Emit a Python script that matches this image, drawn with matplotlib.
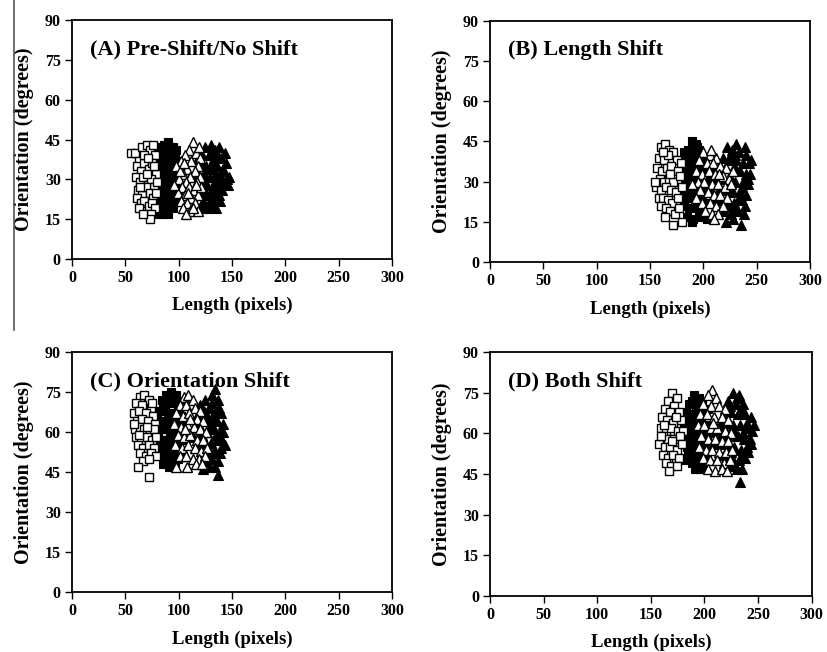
import matplotlib
matplotlib.use("Agg")
from matplotlib import pyplot as plt
from matplotlib.lines import Line2D

matplotlib.rcParams['font.family'] = ['Liberation Serif', 'DejaVu Serif']
matplotlib.rcParams['font.weight'] = 'bold'

# ---- panel A : pre-shift / no shift ----
a_osq_x = [55,59,63,66,70,73,76,78,61,65,68,72,75,79,60,64,67,71,74,77,80,62,66,69,73,76,79,61,65,68,72,75,78,64,70,74,73,77,68,71,63,67]
a_osq_y = [40,40,37,42,43,41,43,39,35,33,36,34,36,32,31,29,31,28,30,27,29,26,24,27,25,23,25,23,21,22,20,21,19,27,32,17,15,35,39,38,19,17]
a_fsq_x = [82,86,90,94,98,81,85,89,93,97,100,83,87,91,95,99,82,86,90,94,98,84,88,92,96,100,81,85,89,93,97,83,87,91,95,86,80,90,84,92,96,88,
           84,88,92,96,80,85,89,93,97,99,87,91,82,95,100,86]
a_fsq_y = [42,43,44,42,41,38,39,40,38,39,37,35,34,36,35,33,31,30,32,31,30,27,28,27,26,28,24,23,24,23,22,20,19,20,19,17,17,17,33,40,33,22,
           41,36,33,29,30,26,31,29,36,25,25,23,22,42,34,38]
a_otr_x = [113,110,116,106,120,102,112,118,98,108,115,104,111,120,100,107,117,103,110,114,99,106,118,112,102,108,115,104,111,118,107,121,96,101,109,113,105,116,119]
a_otr_y = [44,41,40,39,38,37,37,35,35,34,33,32,31,31,30,29,29,27,27,26,25,24,24,23,22,21,21,19,18,18,17,27,28,33,25,19,36,28,42]
a_ftr_x = [125,130,134,138,122,128,133,140,120,126,131,136,142,118,124,129,135,140,145,121,127,132,138,143,119,125,130,136,141,123,128,133,139,126,131,135,116,147,144,137,
           123,129,135,141,146,120,132,138,127,143,124,131,118,136,122]
a_ftr_y = [42,43,41,42,39,39,38,38,36,35,36,35,34,32,32,31,32,31,30,29,28,28,28,29,25,25,24,25,26,22,21,22,22,19,20,19,27,31,36,30,
           35,34,27,33,28,26,41,24,24,40,29,26,38,39,19]

# ---- panel B : length shift ----
b_osq_x = [160,164,168,172,158,163,167,175,179,157,161,166,170,176,159,163,168,172,178,156,160,165,170,174,180,158,162,167,171,176,160,165,169,173,164,172,177,155,169,162,180]
b_osq_y = [43,44,42,41,39,38,40,38,37,35,34,35,36,34,31,30,31,30,32,28,27,28,27,26,28,24,24,23,22,24,21,20,19,18,17,14,20,30,33,41,15]
b_fsq_x = [189,193,186,191,196,183,188,194,199,181,186,191,197,202,183,188,193,199,204,181,186,191,196,201,184,189,194,199,182,187,192,197,185,190,196,189,204,206,183,195,180,203,
           185,190,195,200,205,187,192,198,184,202,194,189,182,199,206]
b_fsq_y = [45,44,42,41,42,39,38,39,38,35,35,34,35,34,31,31,30,31,30,28,27,27,28,27,24,24,23,24,21,20,21,20,17,16,17,15,22,31,34,33,25,16,
           38,35,29,33,26,29,25,22,27,39,43,20,41,18,35]
b_otr_x = [200,206,212,196,203,209,216,221,193,199,205,211,218,224,195,201,208,214,220,197,204,210,216,222,193,199,206,212,218,202,208,214,210,226,189,215,207,228]
b_otr_y = [41,40,39,38,37,37,36,35,34,33,34,33,32,31,30,30,29,29,28,27,26,25,25,24,24,22,22,21,21,19,18,18,16,29,29,33,42,34]
b_ftr_x = [222,227,233,240,218,225,231,237,243,214,220,227,234,240,212,218,224,230,237,242,215,221,228,234,240,217,223,229,236,219,226,232,238,228,235,221,244,213,230,
           224,230,236,242,217,223,233,239,220,226,245,231,214,228,239]
b_ftr_y = [43,42,41,40,39,38,38,37,37,35,35,34,34,33,31,31,30,30,30,29,27,27,26,26,25,23,22,22,23,19,18,19,18,16,14,15,33,24,40,
           39,35,28,31,33,27,24,21,21,31,38,44,29,20,43]

# ---- panel C : orientation shift ----
c_osq_x = [64,68,72,60,66,74,58,63,69,76,61,66,71,78,59,64,68,73,77,60,65,70,75,79,62,67,72,77,64,69,74,79,67,72,62,72,58,75,70,63]
c_osq_y = [73,74,72,71,70,69,67,68,67,66,64,65,64,63,61,62,61,60,61,58,57,58,57,58,55,54,55,54,52,51,52,51,49,50,47,43,63,71,62,59]
c_fsq_x = [88,93,98,84,90,96,101,82,87,93,99,80,85,91,97,102,83,88,94,100,81,86,92,98,103,84,89,95,100,82,87,93,99,85,91,97,102,90,96,88,
           85,90,95,100,83,88,93,97,102,86,92,81,98,90,96]
c_fsq_y = [74,75,73,72,71,71,70,68,68,67,68,65,64,65,64,63,61,61,60,61,58,57,58,57,57,54,54,53,54,51,50,51,50,48,47,48,52,63,62,57,
           70,67,62,59,57,53,55,51,66,61,73,62,74,50,66]
c_otr_x = [105,109,113,101,107,115,120,98,104,110,117,123,96,102,108,114,120,126,99,105,111,117,123,97,103,109,115,121,127,101,107,113,119,125,98,108,116,122,111,106]
c_otr_y = [73,74,72,70,70,69,68,67,66,67,65,64,63,62,63,62,61,60,59,58,59,57,57,55,54,55,54,53,54,51,51,50,50,51,47,47,48,48,65,61]
c_ftr_x = [134,131,125,137,120,128,134,140,117,123,130,136,142,115,121,127,133,139,118,124,130,136,141,116,122,128,134,140,119,125,131,137,123,129,134,137,143,113,127,
           124,131,138,122,129,135,142,119,126,132,139,121,128,133,117]
c_ftr_y = [76,74,72,72,70,69,68,67,66,65,64,64,63,62,61,60,61,60,58,57,56,57,57,54,53,53,53,54,50,49,50,49,46,47,47,44,55,58,66,
           68,71,69,59,62,59,60,55,55,52,52,48,51,65,63]

# ---- panel D : both shift ----
d_osq_x = [170,174,166,172,163,168,176,160,165,171,178,159,164,169,175,180,161,166,172,177,158,163,168,174,179,161,166,171,176,164,169,174,167,162,170,173,159]
d_osq_y = [75,73,72,70,69,68,68,66,65,64,65,62,61,62,61,61,59,58,58,59,56,55,55,54,56,52,51,52,51,49,48,48,46,63,57,66,59]
d_fsq_x = [190,195,186,192,198,183,188,194,200,181,186,191,197,203,184,189,195,201,182,187,193,199,204,185,190,196,202,183,188,194,200,191,197,205,192,186,
           188,193,199,185,190,196,202,184,188,194,200,182,196,203,191]
d_fsq_y = [74,73,71,70,71,68,67,68,67,64,64,63,64,63,60,60,59,60,57,56,56,57,56,53,53,52,53,50,49,50,49,47,47,60,66,59,
           72,65,62,62,58,55,58,55,51,47,52,66,69,69,61]
d_otr_x = [207,203,211,199,206,214,219,196,202,209,216,222,194,200,206,212,219,225,197,203,210,216,222,195,201,207,214,220,226,199,205,212,218,224,203,210,216,221,208]
d_otr_y = [76,74,73,71,70,70,69,67,67,66,66,65,63,63,62,62,61,60,59,58,58,57,57,55,54,54,53,53,54,51,50,50,49,50,47,46,47,46,64]
d_ftr_x = [227,232,222,229,236,219,225,231,238,243,215,221,227,233,239,244,213,219,225,231,237,242,216,222,228,234,240,214,220,226,232,238,218,224,230,235,233,246,211,
           224,234,240,218,228,236,243,220,225,235,241,222,228,215,230]
d_ftr_y = [75,74,72,71,71,68,68,67,67,66,64,64,63,63,62,61,60,60,59,59,58,58,56,55,55,54,55,52,51,51,50,51,48,48,47,47,42,63,56,
           70,69,64,62,61,60,56,57,53,52,53,50,49,59,73]

panels = [
    ("(A) Pre-Shift/No Shift", [0.087, 0.603, 0.387, 0.366],
     (a_osq_x, a_osq_y), (a_fsq_x, a_fsq_y), (a_otr_x, a_otr_y), (a_ftr_x, a_ftr_y)),
    ("(B) Length Shift", [0.5925, 0.598, 0.387, 0.370],
     (b_osq_x, b_osq_y), (b_fsq_x, b_fsq_y), (b_otr_x, b_otr_y), (b_ftr_x, b_ftr_y)),
    ("(C) Orientation Shift", [0.087, 0.092, 0.387, 0.368],
     (c_osq_x, c_osq_y), (c_fsq_x, c_fsq_y), (c_otr_x, c_otr_y), (c_ftr_x, c_ftr_y)),
    ("(D) Both Shift", [0.5925, 0.086, 0.389, 0.374],
     (d_osq_x, d_osq_y), (d_fsq_x, d_fsq_y), (d_otr_x, d_otr_y), (d_ftr_x, d_ftr_y)),
]

fig = plt.figure(figsize=(8.27, 6.52), dpi=100)

ms = 5.6
for title, rect, osq, fsq, otr, ftr in panels:
    ax = fig.add_axes(rect)
    # filled series first, open ones drawn on top
    ax.plot(fsq[0], fsq[1], 's', ms=ms, mfc='black', mec='black', mew=0.8, ls='none')
    ax.plot(ftr[0], ftr[1], '^', ms=ms + 1, mfc='black', mec='black', mew=0.8, ls='none')
    ax.plot(osq[0], osq[1], 's', ms=ms, mfc='white', mec='black', mew=1.0, ls='none')
    ax.plot(otr[0], otr[1], '^', ms=ms + 1, mfc='white', mec='black', mew=1.0, ls='none')

    ax.set_xlim(0, 300)
    ax.set_ylim(0, 90)
    ax.set_xticks(range(0, 301, 50))
    ax.set_yticks(range(0, 91, 15))
    ax.tick_params(direction='out', length=5, width=1, labelsize=11.5, pad=3)
    for lab in ax.get_xticklabels() + ax.get_yticklabels():
        lab.set_fontweight('bold')
    for sp in ax.spines.values():
        sp.set_linewidth(1.3)
    ax.set_xlabel("Length (pixels)", fontsize=13.5, fontweight='bold', labelpad=8)
    ax.set_ylabel("Orientation (degrees)", fontsize=14.5, fontweight='bold', labelpad=8)
    ax.text(0.055, 0.92, title, transform=ax.transAxes, fontsize=16,
            fontweight='bold', va='top', ha='left')

# stray crop border on the left of the source image
fig.add_artist(Line2D([0.017, 0.017], [1.0, 0.494], color='#555555', lw=1.2))

plt.savefig("out.png", dpi=100)
